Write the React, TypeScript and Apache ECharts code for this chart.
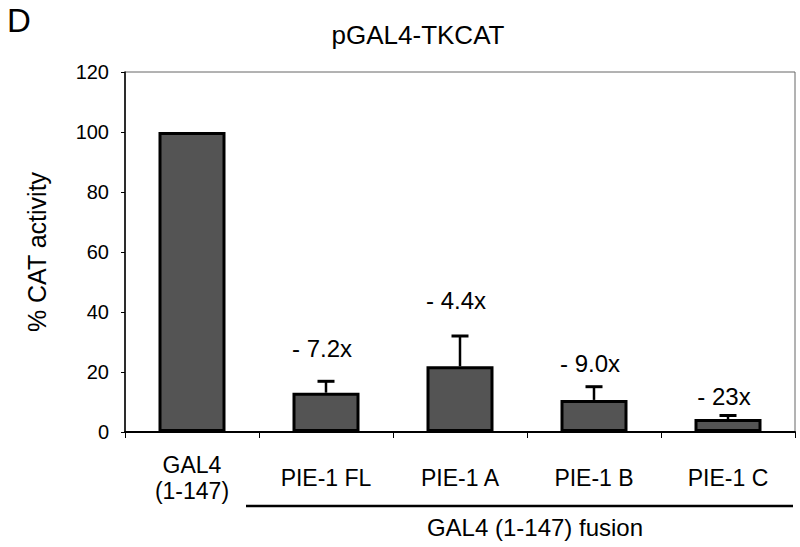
import React, { useEffect, useRef } from "react";
import * as echarts from "echarts";

const categories = ["GAL4\n(1-147)", "PIE-1 FL", "PIE-1 A", "PIE-1 B", "PIE-1 C"];
const activity = [100, 13.1, 21.9, 10.7, 4.3];
const errorUpper = [null, 16.9, 32, 15.1, 5.5];
const foldLabels = ["", "- 7.2x", "- 4.4x", "- 9.0x", "- 23x"];
const foldLabelLevel = [null, 28, 43.7, 22.7, 12];
const yTicks = { min: 0, max: 120, interval: 20 };

const FONT = "'Liberation Sans', Arial, Helvetica, sans-serif";

export default function App() {
  const ref = useRef<HTMLDivElement>(null);
  useEffect(() => {
    document.body.style.margin = "0";
    const chart = echarts.init(ref.current!, null, { renderer: "svg" });
    const errData = categories
      .map((_, i) => [i, activity[i], errorUpper[i], foldLabelLevel[i]])
      .filter((d) => d[2] != null);
    chart.setOption({
      animation: false,
      textStyle: { fontFamily: FONT },
      grid: {
        left: 125,
        right: 5,
        top: 72,
        bottom: 115,
        show: true,
        borderColor: "#666",
        borderWidth: 1,
      },
      graphic: [
        {
          type: "text",
          x: 7,
          y: 20,
          style: {
            text: "D",
            font: `33px ${FONT}`,
            fill: "#000",
            textVerticalAlign: "middle",
          },
        },
        {
          type: "text",
          x: 418,
          y: 35,
          style: {
            text: "pGAL4-TKCAT",
            font: `26px ${FONT}`,
            fill: "#000",
            textAlign: "center",
            textVerticalAlign: "middle",
          },
        },
        {
          type: "line",
          shape: { x1: 246, y1: 506, x2: 793, y2: 506 },
          style: { stroke: "#000", lineWidth: 2.5 },
        },
        {
          type: "text",
          x: 535,
          y: 527,
          style: {
            text: "GAL4 (1-147) fusion",
            font: `24px ${FONT}`,
            fill: "#000",
            textAlign: "center",
            textVerticalAlign: "middle",
          },
        },
      ],
      xAxis: {
        type: "category",
        data: categories,
        axisLine: { show: true, lineStyle: { color: "#000", width: 2 } },
        axisTick: { show: true, length: 6, lineStyle: { color: "#000", width: 1 } },
        axisLabel: {
          interval: 0,
          margin: 46,
          verticalAlign: "middle",
          fontSize: 23,
          lineHeight: 26,
          color: "#000",
          fontFamily: FONT,
        },
      },
      yAxis: {
        type: "value",
        min: yTicks.min,
        max: yTicks.max,
        interval: yTicks.interval,
        name: "% CAT activity",
        nameLocation: "middle",
        nameGap: 76,
        nameTextStyle: { fontSize: 25, color: "#000", fontFamily: FONT },
        axisLine: { show: true, lineStyle: { color: "#000", width: 1.5 } },
        axisTick: { show: true, length: 4, lineStyle: { color: "#000" } },
        axisLabel: { fontSize: 20, color: "#000", margin: 16, fontFamily: FONT },
        splitLine: { show: false },
      },
      series: [
        {
          type: "bar",
          data: activity,
          barWidth: 67,
          itemStyle: { color: "#545454", borderColor: "#000", borderWidth: 3 },
          z: 2,
        },
        {
          type: "custom",
          data: errData,
          z: 3,
          renderItem: (params: any, api: any) => {
            const x = api.value(0);
            const top = api.coord([x, api.value(1)]);
            const hi = api.coord([x, api.value(2)]);
            const lab = api.coord([x, api.value(3)]);
            const cx = top[0];
            const half = 8.5;
            return {
              type: "group",
              children: [
                {
                  type: "line",
                  shape: { x1: cx, y1: top[1], x2: cx, y2: hi[1] },
                  style: { stroke: "#000", lineWidth: 2.5 },
                },
                {
                  type: "line",
                  shape: { x1: cx - half, y1: hi[1], x2: cx + half, y2: hi[1] },
                  style: { stroke: "#000", lineWidth: 3 },
                },
                {
                  type: "text",
                  x: cx - 4,
                  y: lab[1],
                  style: {
                    text: foldLabels[params.dataIndex + 1],
                    font: `24px ${FONT}`,
                    fill: "#000",
                    textAlign: "center",
                    textVerticalAlign: "middle",
                  },
                },
              ],
            };
          },
        },
      ],
    });
    return () => chart.dispose();
  }, []);
  return <div ref={ref} style={{ width: 800, height: 547 }} />;
}
